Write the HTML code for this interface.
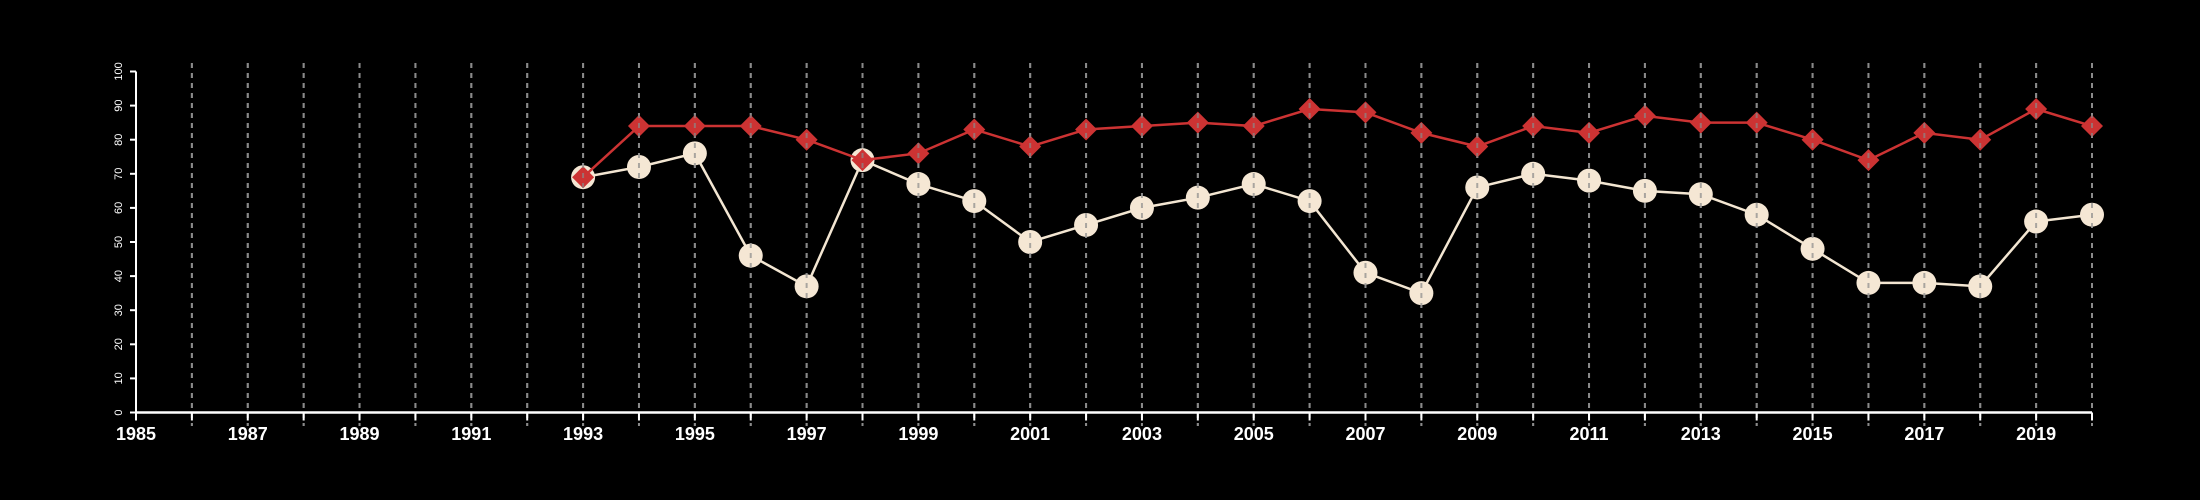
<!DOCTYPE html>
<html><head><meta charset="utf-8"><style>
html,body{margin:0;padding:0;background:#000;}
svg{display:block;font-family:"Liberation Sans",sans-serif;}
</style></head><body>
<svg id="chart" width="2200" height="500" viewBox="0 0 2200 500" xmlns="http://www.w3.org/2000/svg">
<rect width="2200" height="500" fill="#000"/>
<g id="grid"></g>
<g id="series"></g>
<g id="gridTop"></g>
<g id="axes"></g>
</svg>
<script>
const years = [1993,1994,1995,1996,1997,1998,1999,2000,2001,2002,2003,2004,2005,2006,2007,2008,2009,2010,2011,2012,2013,2014,2015,2016,2017,2018,2019,2020];
const redValues = [69,84,84,84,80,74,76,83,78,83,84,85,84,89,88,82,78,84,82,87,85,85,80,74,82,80,89,84];
const whiteValues = [69,72,76,46,37,74,67,62,50,55,60,63,67,62,41,35,66,70,68,65,64,58,48,38,38,37,56,58];
const yTicks = [0,10,20,30,40,50,60,70,80,90,100];
const xTickLabels = [1985,1987,1989,1991,1993,1995,1997,1999,2001,2003,2005,2007,2009,2011,2013,2015,2017,2019];
const xMin = 1985, xMax = 2020;

const NS = "http://www.w3.org/2000/svg";
const X0 = 136, X1 = 2092, Y0 = 412.5, Y1 = 71.5;
function xs(v){ return X0 + (v - xMin) / (xMax - xMin) * (X1 - X0); }
function ys(v){ return Y0 - v / 100 * (Y0 - Y1); }
function mk(tag, attrs, parent){ const e = document.createElementNS(NS, tag); for (const k in attrs) e.setAttribute(k, attrs[k]); parent.appendChild(e); return e; }

const grid = document.getElementById('grid');
const gridTop = document.getElementById('gridTop');
const series = document.getElementById('series');
const axes = document.getElementById('axes');

for (let yr = xMin + 1; yr <= xMax; yr++) {
  const g = mk('line', {x1: xs(yr), x2: xs(yr), y1: 63, y2: 426, stroke: '#8a8a8a', 'stroke-width': 2, 'stroke-dasharray': '5,5'}, grid);
  
  
}

// white series
const wp = years.map((y,i) => xs(y) + ',' + ys(whiteValues[i])).join(' ');
const wl = mk('polyline', {points: wp, fill: 'none', stroke: '#f3e6d2', 'stroke-width': 2.5}, series);


years.forEach((y,i) => {
  const c = mk('circle', {cx: xs(y), cy: ys(whiteValues[i]), r: 12, fill: '#f5e7d4'}, series);
  
  
});
// red series
const rp = years.map((y,i) => xs(y) + ',' + ys(redValues[i])).join(' ');
const rl = mk('polyline', {points: rp, fill: 'none', stroke: '#cc3333', 'stroke-width': 2.5}, series);


years.forEach((y,i) => {
  const cx = xs(y), cy = ys(redValues[i]), d = 11;
  const p = mk('polygon', {points: `${cx},${cy-d} ${cx+d},${cy} ${cx},${cy+d} ${cx-d},${cy}`, fill: '#cc3333'}, series);
  
  
});

// faint dashes over markers
for (let yr = xMin + 1; yr <= xMax; yr++) {
  const g = mk('line', {x1: xs(yr), x2: xs(yr), y1: 63, y2: 426, stroke: '#8a8a8a', 'stroke-width': 2, 'stroke-dasharray': '5,5', opacity: 0.7}, gridTop);
  
  
}

// axes
const ya = mk('line', {x1: X0, x2: X0, y1: Y1, y2: Y0, stroke: '#fff', 'stroke-width': 2}, axes);


yTicks.forEach(t => {
  const tk = mk('line', {x1: X0 - 6, x2: X0, y1: ys(t), y2: ys(t), stroke: '#fff', 'stroke-width': 2}, axes);
  
  
  const tx = mk('text', {x: 0, y: 0, fill: '#fff', 'font-size': 11, 'text-anchor': 'middle', transform: `translate(${X0-14},${ys(t)}) rotate(-90)`}, axes);
  tx.textContent = t;
  
  
});
const xa = mk('line', {x1: X0, x2: X1, y1: Y0, y2: Y0, stroke: '#fff', 'stroke-width': 2.5}, axes);


for (let yr = xMin; yr <= xMax; yr++) {
  const tk = mk('line', {x1: xs(yr), x2: xs(yr), y1: Y0, y2: Y0 + 8, stroke: '#fff', 'stroke-width': 2}, axes);
  
  
}
xTickLabels.forEach(l => {
  const tx = mk('text', {x: xs(l), y: 440, fill: '#fff', 'font-size': 18, 'font-weight': 'bold', 'text-anchor': 'middle'}, axes);
  tx.textContent = l;
  
  
});
</script>
</body></html>
